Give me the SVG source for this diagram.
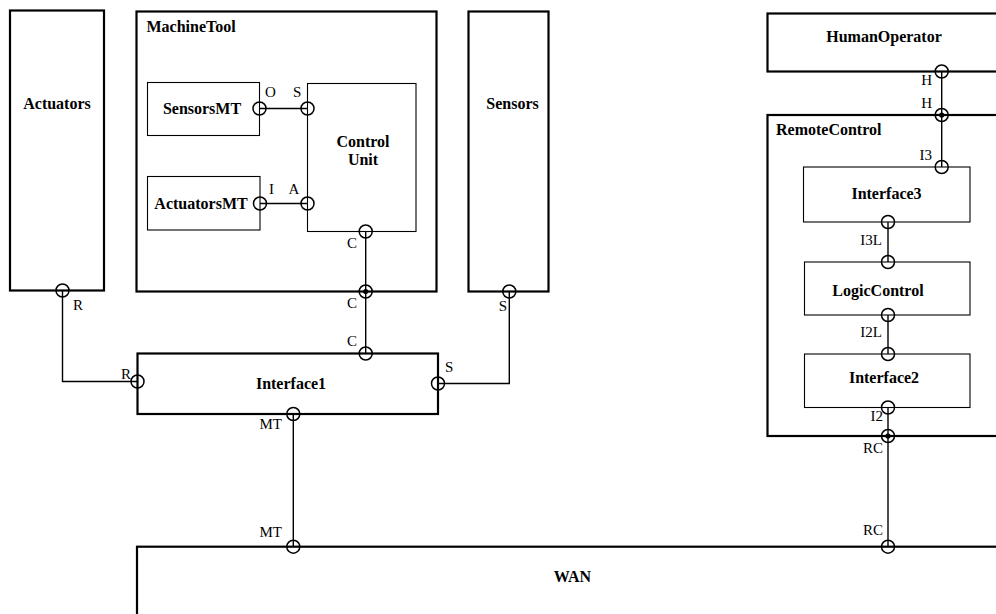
<svg xmlns="http://www.w3.org/2000/svg" width="996" height="614" viewBox="0 0 996 614">
<style>
.outer{fill:#fff;stroke:#000;stroke-width:2.2}
.inner{fill:#fff;stroke:#000;stroke-width:1.1}
.conn{fill:none;stroke:#000;stroke-width:1.4}
.port{fill:none;stroke:#000;stroke-width:1.5}
.dot{fill:#000}
.b{font-family:"Liberation Serif","Times New Roman",serif;font-weight:bold;font-size:16px;fill:#000}
.l{font-family:"Liberation Serif","Times New Roman",serif;font-size:15px;fill:#000}
.m{text-anchor:middle}
.e{text-anchor:end}
</style>
<defs>
<circle id="p" r="6.5" class="port"/>
</defs>
<rect width="996" height="614" fill="#fff"/>
<g id="Actuators">
<rect class="outer" x="10" y="10.5" width="94" height="280"/>
<text class="b m" x="57" y="109">Actuators</text>
</g>
<g id="MachineTool">
<rect class="outer" x="136.5" y="11.5" width="300" height="280"/>
<text class="b" x="146.5" y="32">MachineTool</text>
</g>
<g id="SensorsMT">
<rect class="inner" x="147.5" y="82.5" width="112" height="53"/>
<text class="b m" x="202" y="114">SensorsMT</text>
</g>
<g id="ActuatorsMT">
<rect class="inner" x="147.5" y="176.5" width="112.5" height="53.5"/>
<text class="b m" x="201" y="209">ActuatorsMT</text>
</g>
<g id="ControlUnit">
<rect class="inner" x="307.5" y="83.5" width="108.5" height="148"/>
<text class="b m" x="363" y="147">Control</text>
<text class="b m" x="363" y="165">Unit</text>
</g>
<g id="Sensors">
<rect class="outer" x="468.5" y="11.5" width="80" height="280"/>
<text class="b m" x="512.5" y="109">Sensors</text>
</g>
<g id="Interface1">
<rect class="outer" x="137.5" y="353.5" width="300.5" height="60.5"/>
<text class="b m" x="291" y="389">Interface1</text>
</g>
<g id="HumanOperator">
<rect class="outer" x="767.5" y="13.5" width="240" height="58"/>
<text class="b m" x="884" y="42">HumanOperator</text>
</g>
<g id="RemoteControl">
<rect class="outer" x="767.5" y="115" width="240" height="321"/>
<text class="b" x="776" y="135">RemoteControl</text>
</g>
<g id="Interface3">
<rect class="inner" x="803.5" y="167" width="166.5" height="55"/>
<text class="b m" x="886.5" y="199">Interface3</text>
</g>
<g id="LogicControl">
<rect class="inner" x="804.5" y="262" width="165.5" height="53"/>
<text class="b m" x="878" y="296">LogicControl</text>
</g>
<g id="Interface2">
<rect class="inner" x="804.5" y="354" width="165.5" height="53.5"/>
<text class="b m" x="884" y="383">Interface2</text>
</g>
<g id="WAN">
<rect class="outer" x="137" y="546.7" width="880" height="100"/>
<text class="b m" x="572.5" y="582">WAN</text>
</g>
<g id="connectors">
<line class="conn" x1="259.5" y1="108.5" x2="307.5" y2="108.5"/>
<line class="conn" x1="260" y1="203.5" x2="307.5" y2="203.5"/>
<line class="conn" x1="365.7" y1="231.5" x2="365.7" y2="353.5"/>
<polyline class="conn" points="62.5,290.5 62.5,381.5 137.5,381.5"/>
<polyline class="conn" points="438,383.5 509.3,383.5 509.3,291.5"/>
<line class="conn" x1="293.3" y1="414" x2="293.3" y2="546.7"/>
<line class="conn" x1="941.7" y1="71.5" x2="941.7" y2="167"/>
<line class="conn" x1="888" y1="222" x2="888" y2="262"/>
<line class="conn" x1="888" y1="315" x2="888" y2="354"/>
<line class="conn" x1="888" y1="407.5" x2="888" y2="546.7"/>
</g>
<g id="ports">
<use href="#p" x="259.5" y="108.5"/>
<use href="#p" x="307.5" y="108.5"/>
<use href="#p" x="260" y="203.5"/>
<use href="#p" x="307.5" y="203.5"/>
<use href="#p" x="365.7" y="231.5"/>
<use href="#p" x="365.7" y="291.5"/>
<circle class="dot" cx="365.7" cy="291.5" r="2.6"/>
<use href="#p" x="365.7" y="353.5"/>
<use href="#p" x="62.5" y="290.5"/>
<use href="#p" x="137.5" y="381.5"/>
<use href="#p" x="509.3" y="291.5"/>
<use href="#p" x="438" y="383.5"/>
<use href="#p" x="293.3" y="414"/>
<use href="#p" x="293.3" y="546.7"/>
<use href="#p" x="941.7" y="71.5"/>
<use href="#p" x="941.7" y="115"/>
<circle class="dot" cx="941.7" cy="115" r="2.6"/>
<use href="#p" x="941.7" y="167"/>
<use href="#p" x="888" y="222"/>
<use href="#p" x="888" y="262"/>
<use href="#p" x="888" y="315"/>
<use href="#p" x="888" y="354"/>
<use href="#p" x="888" y="407.5"/>
<use href="#p" x="888" y="436"/>
<circle class="dot" cx="888" cy="436" r="2.6"/>
<use href="#p" x="888" y="546.7"/>
</g>
<g id="port-labels">
<text class="l" x="265" y="97">O</text>
<text class="l" x="293" y="97">S</text>
<text class="l" x="269" y="194">I</text>
<text class="l" x="288.5" y="194">A</text>
<text class="l e" x="357" y="248">C</text>
<text class="l e" x="357" y="308">C</text>
<text class="l e" x="357" y="346">C</text>
<text class="l" x="73" y="310">R</text>
<text class="l e" x="131" y="379">R</text>
<text class="l e" x="507" y="311">S</text>
<text class="l" x="445" y="372">S</text>
<text class="l e" x="282" y="429">MT</text>
<text class="l e" x="282" y="537">MT</text>
<text class="l e" x="932" y="85">H</text>
<text class="l e" x="932" y="108">H</text>
<text class="l e" x="932" y="160">I3</text>
<text class="l e" x="882" y="245">I3L</text>
<text class="l e" x="882" y="337">I2L</text>
<text class="l e" x="883" y="421">I2</text>
<text class="l e" x="883" y="453">RC</text>
<text class="l e" x="883" y="535">RC</text>
</g>
</svg>
